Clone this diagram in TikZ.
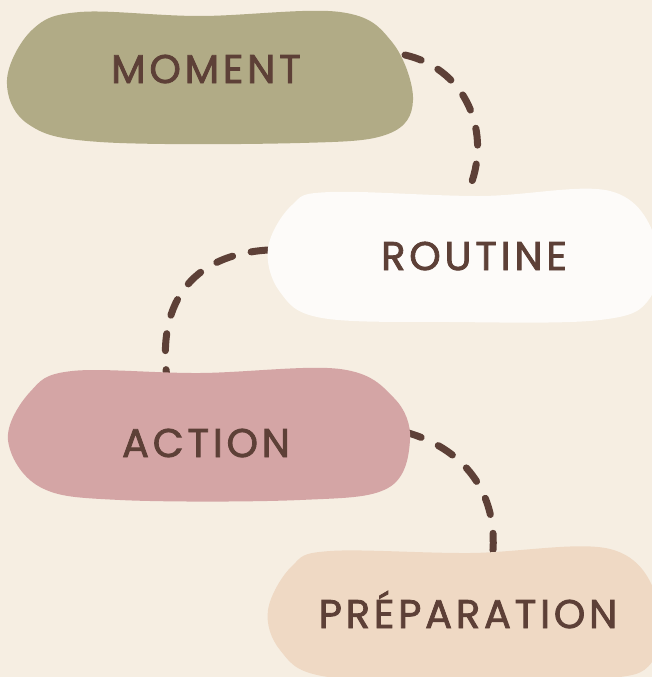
\documentclass[tikz,border=0pt]{standalone}
\usepackage{fontspec}
\setmainfont{Poppins}
\newfontfamily\lblfont{Poppins}[LetterSpace=9.5, FakeBold=2]
\definecolor{bg}{HTML}{F6EEE2}
\definecolor{olive}{HTML}{B1AB86}
\definecolor{whitish}{HTML}{FDFBF9}
\definecolor{rose}{HTML}{D4A5A5}
\definecolor{sand}{HTML}{EFD9C4}
\definecolor{brown}{HTML}{5D4037}
\tikzset{
  lbl/.style={text=brown, font=\lblfont\fontsize{40}{40}\selectfont, anchor=base, inner sep=0pt},
  dashline/.style={draw=brown, line width=7pt, line cap=round, dash pattern=on 17pt off 19pt}
}
\begin{document}
\begin{tikzpicture}[x=1pt,y=-1pt]
\useasboundingbox (0,0) rectangle (652,677);
\fill[bg] (0,0) rectangle (652,677);
\begin{scope}
\clip (0,0) rectangle (652,677);
% named coordinates for connectors
\coordinate (c1s) at (405,55);
\coordinate (c1a) at (470,70);
\coordinate (c1b) at (495,140);
\coordinate (c1e) at (465,198);
\coordinate (c2s) at (268,250);
\coordinate (c2a) at (190,255);
\coordinate (c2b) at (155,305);
\coordinate (c2e) at (168,385);
\coordinate (c3s) at (405,432);
\coordinate (c3a) at (470,450);
\coordinate (c3b) at (500,500);
\coordinate (c3e) at (492,560);
\draw[dashline] (c1s) .. controls (c1a) and (c1b) .. (c1e);
\draw[dashline] (c2s) .. controls (c2a) and (c2b) .. (c2e);
\draw[dashline] (c3s) .. controls (c3a) and (c3b) .. (c3e);
% blobs
\fill[olive] plot[smooth cycle, tension=0.6] coordinates {(80,12) (200,16) (340,12) (392,42) (413,100) (388,134) (300,143) (100,142) (28,124) (7,80) (32,30)};
\fill[whitish] plot[smooth cycle, tension=0.6] coordinates {(330,192) (480,196) (610,191) (656,240) (650,298) (600,320) (450,322) (322,318) (280,292) (268,248) (292,205)};
\fill[rose] plot[smooth cycle, tension=0.6] coordinates {(72,371) (200,373) (340,369) (394,398) (410,440) (388,488) (300,500) (120,500) (40,487) (8,440) (30,392)};
\fill[sand] plot[smooth cycle, tension=0.6] coordinates {(330,551) (470,553) (610,549) (658,600) (652,662) (600,679) (450,681) (322,676) (280,650) (268,610) (292,566)};
\end{scope}
% labels
\node[lbl] (moment) at (206,83) {MOMENT};
\node[lbl] (routine) at (474,270) {ROUTINE};
\node[lbl] (action) at (206,457) {ACTION};
\node[lbl] (prep) at (468,628) {PRÉPARATION};
\end{tikzpicture}
\end{document}
